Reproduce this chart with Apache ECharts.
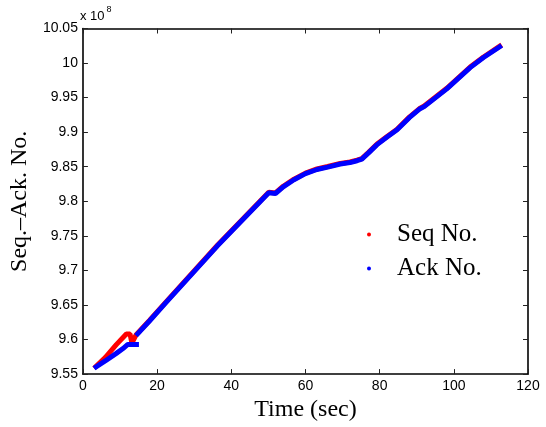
<!DOCTYPE html>
<html>
<head>
<meta charset="utf-8">
<script src="https://cdn.jsdelivr.net/npm/echarts@6/dist/echarts.min.js"></script>
<style>
  html, body { margin: 0; padding: 0; background: #fff; }
  #chart { width: 546px; height: 427px; }
</style>
</head>
<body>
<div id="chart"></div>
<script>
// Sequence / acknowledgement numbers over time, in units of 1e8.
// [time (sec), number / 1e8]; a null entry breaks the line.
const seqData = [
  [3.0, 9.5585], [6.0, 9.5740], [9.0, 9.5926], [11.7, 9.6080], [12.7, 9.6080],
  [13.2, 9.5950], [14.3, 9.6065], [18.0, 9.6280], [22.3, 9.6538], [36.2, 9.7360],
  [50.1, 9.8131], [50.6, 9.8136], [51.9, 9.8121], [54.0, 9.8218], [56.9, 9.8320],
  [60.0, 9.8408], [63.1, 9.8468], [66.0, 9.8503], [69.4, 9.8548], [72.0, 9.8568],
  [73.9, 9.8595], [75.2, 9.8618], [77.0, 9.8708], [79.3, 9.8828], [82.0, 9.8938],
  [84.7, 9.9043], [88.0, 9.9218], [90.9, 9.9348], [92.0, 9.9378], [98.1, 9.9635],
  [104.4, 9.9942], [108.0, 10.0088], [112.9, 10.0262]
];
const ackData = [
  [3.0, 9.5585], [6.0, 9.5690], [9.0, 9.5800], [10.8, 9.5870], [12.1, 9.5930],
  [15.1, 9.5930], null,
  [14.3, 9.6057], [18.0, 9.6272], [22.3, 9.6530], [36.2, 9.7352],
  [50.1, 9.8123], [50.6, 9.8128], [51.9, 9.8113], [54.0, 9.8210], [56.9, 9.8312],
  [60.0, 9.8400], [63.1, 9.8460], [66.0, 9.8495], [69.4, 9.8540], [72.0, 9.8560],
  [73.9, 9.8587], [75.2, 9.8610], [77.0, 9.8700], [79.3, 9.8820], [82.0, 9.8930],
  [84.7, 9.9035], [88.0, 9.9210], [90.9, 9.9340], [92.0, 9.9370], [98.1, 9.9627],
  [104.4, 9.9934], [108.0, 10.0080], [112.9, 10.0254]
];
const seriesNames = ['Seq No.', 'Ack No.'];
const xRange = [0, 120, 20];
const yRange = [9.55, 10.05, 0.05];

const sansFont = '"Liberation Sans", Arial, sans-serif';
const serifFont = '"Liberation Serif", "Times New Roman", serif';

const tickStyle = { show: true, inside: true, length: 5, lineStyle: { color: '#222', width: 1 } };
const frameLine = { show: true, onZero: false, lineStyle: { color: '#000', width: 1.6 } };
const fmtY = v => String(parseFloat(v.toFixed(2)));

const chart = echarts.init(document.getElementById('chart'));
chart.setOption({
  animation: false,
  backgroundColor: '#fff',
  grid: { left: 82, right: 18, top: 28.5, bottom: 46, containLabel: false },
  legend: {
    data: seriesNames.map(n => ({ name: n, icon: 'circle' })),
    orient: 'vertical',
    left: 362,
    top: 217,
    itemWidth: 4,
    itemHeight: 4,
    itemGap: 9,
    textStyle: { fontFamily: serifFont, fontSize: 25, color: '#000', padding: [0, 0, 0, 21], lineHeight: 25 }
  },
  graphic: [{
    type: 'text',
    left: 80,
    top: 5,
    style: {
      text: '{b|x 10}{s|8}',
      rich: {
        b: { fontFamily: sansFont, fontSize: 13, fill: '#000', verticalAlign: 'bottom', lineHeight: 18 },
        s: { fontFamily: sansFont, fontSize: 9, fill: '#000', verticalAlign: 'top', lineHeight: 18, padding: [0, 0, 9, 2] }
      }
    }
  }],
  xAxis: [{
    type: 'value', position: 'bottom',
    min: xRange[0], max: xRange[1], interval: xRange[2],
    name: 'Time (sec)', nameLocation: 'middle', nameGap: 18,
    nameTextStyle: { fontFamily: serifFont, fontSize: 24, color: '#000' },
    axisLine: frameLine, axisTick: tickStyle,
    axisLabel: { fontFamily: sansFont, fontSize: 14, color: '#000', margin: 5 },
    splitLine: { show: false }
  }, {
    type: 'value', position: 'top',
    min: xRange[0], max: xRange[1], interval: xRange[2],
    axisLine: frameLine, axisTick: tickStyle,
    axisLabel: { show: false }, splitLine: { show: false }
  }],
  yAxis: [{
    type: 'value', position: 'left',
    min: yRange[0], max: yRange[1], interval: yRange[2],
    name: 'Seq.\u2013Ack. No.', nameLocation: 'middle', nameGap: 48,
    nameTextStyle: { fontFamily: serifFont, fontSize: 24, color: '#000' },
    axisLine: frameLine, axisTick: tickStyle,
    axisLabel: { fontFamily: sansFont, fontSize: 14, color: '#000', margin: 5, formatter: fmtY },
    splitLine: { show: false }
  }, {
    type: 'value', position: 'right',
    min: yRange[0], max: yRange[1], interval: yRange[2],
    axisLine: frameLine, axisTick: tickStyle,
    axisLabel: { show: false }, splitLine: { show: false }
  }],
  series: [{
    name: seriesNames[0], type: 'line', data: seqData,
    xAxisIndex: 0, yAxisIndex: 0,
    showSymbol: false, symbol: 'circle', symbolSize: 4,
    itemStyle: { color: '#ff0000' },
    lineStyle: { color: '#ff0000', width: 5 },
    z: 2
  }, {
    name: seriesNames[1], type: 'line', data: ackData,
    xAxisIndex: 0, yAxisIndex: 0,
    showSymbol: false, symbol: 'circle', symbolSize: 4, connectNulls: false,
    itemStyle: { color: '#0000ff' },
    lineStyle: { color: '#0000ff', width: 5 },
    z: 3
  }]
});
</script>
</body>
</html>
